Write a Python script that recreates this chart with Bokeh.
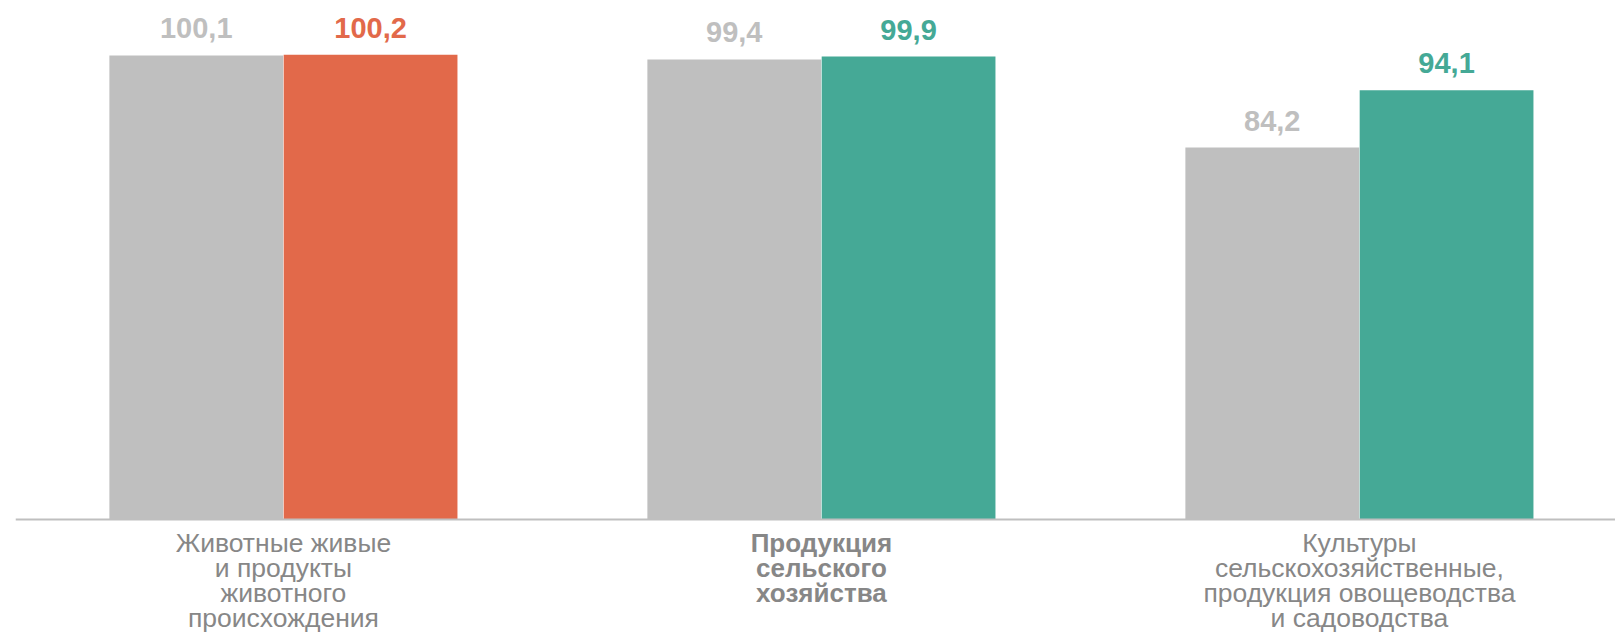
from bokeh.plotting import figure
from bokeh.models import ColumnDataSource, Span, Range1d
from bokeh.core.properties import value
from bokeh.embed import file_html
from bokeh.resources import INLINE

categories = [
    "Животные живые\nи продукты\nживотного\nпроисхождения",
    "Продукция\nсельского\nхозяйства",
    "Культуры\nсельскохозяйственные,\nпродукция овощеводства\nи садоводства",
]
prev_values = [100.1, 99.4, 84.2]
curr_values = [100.2, 99.9, 94.1]

GRAY = "#BFBFBF"
ORANGE = "#E2694A"
TEAL = "#45A996"
TEXT_GRAY = "#878787"
curr_colors = [ORANGE, TEAL, TEAL]
bold_flags = [False, True, False]

def fmt(v):
    return f"{v:.1f}".replace(".", ",")

idx = list(range(len(categories)))
off = 0.162
bw = 0.323
BASE = 20

p = figure(width=1615, height=632, output_backend="svg", toolbar_location=None,
           x_range=Range1d(-0.498, 2.476), y_range=Range1d(0.497, 109.58),
           min_border_left=15, min_border_right=0, min_border_top=0, min_border_bottom=0)
p.axis.visible = False
p.grid.visible = False
p.outline_line_color = None
p.background_fill_color = "white"
p.border_fill_color = "white"

src_prev = ColumnDataSource(dict(x=[i - off for i in idx], top=prev_values,
                                 lbl=[fmt(v) for v in prev_values]))
src_curr = ColumnDataSource(dict(x=[i + off for i in idx], top=curr_values,
                                 lbl=[fmt(v) for v in curr_values], color=curr_colors))

p.vbar(x="x", top="top", bottom=BASE, width=bw, source=src_prev, fill_color=GRAY, line_color=None)
p.vbar(x="x", top="top", bottom=BASE, width=bw, source=src_curr, fill_color="color", line_color=None)

p.add_layout(Span(location=BASE, dimension="width", line_color="#BFBFBF", line_width=2))

for src in (src_prev, src_curr):
    p.text(x="x", y="top", text="lbl", source=src,
           text_color=GRAY if src is src_prev else "color",
           text_font=value("Liberation Sans"), text_font_style="bold", text_font_size="29px",
           text_align="center", text_baseline="alphabetic", y_offset=-27)

# category labels, one text per line
lx, ly, lt, lo, lb = [], [], [], [], []
for i in idx:
    for k, line in enumerate(categories[i].split("\n")):
        lx.append(i)
        lt.append(line)
        lo.append(23 + 25 * k)
        lb.append(bold_flags[i])
norm = ColumnDataSource(dict(x=[a for a, b in zip(lx, lb) if not b],
                             t=[a for a, b in zip(lt, lb) if not b],
                             o=[a for a, b in zip(lo, lb) if not b]))
bold = ColumnDataSource(dict(x=[a for a, b in zip(lx, lb) if b],
                             t=[a for a, b in zip(lt, lb) if b],
                             o=[a for a, b in zip(lo, lb) if b]))
p.text(x="x", y=BASE, text="t", source=norm, text_color=TEXT_GRAY, y_offset="o",
       text_font=value("Liberation Sans"), text_font_size="26.5px",
       text_align="center", text_baseline="alphabetic")
p.text(x="x", y=BASE, text="t", source=bold, text_color=TEXT_GRAY, y_offset="o",
       text_font=value("Liberation Sans"), text_font_style="bold", text_font_size="26px",
       text_align="center", text_baseline="alphabetic")

open("out.html", "w").write(file_html(p, INLINE))
